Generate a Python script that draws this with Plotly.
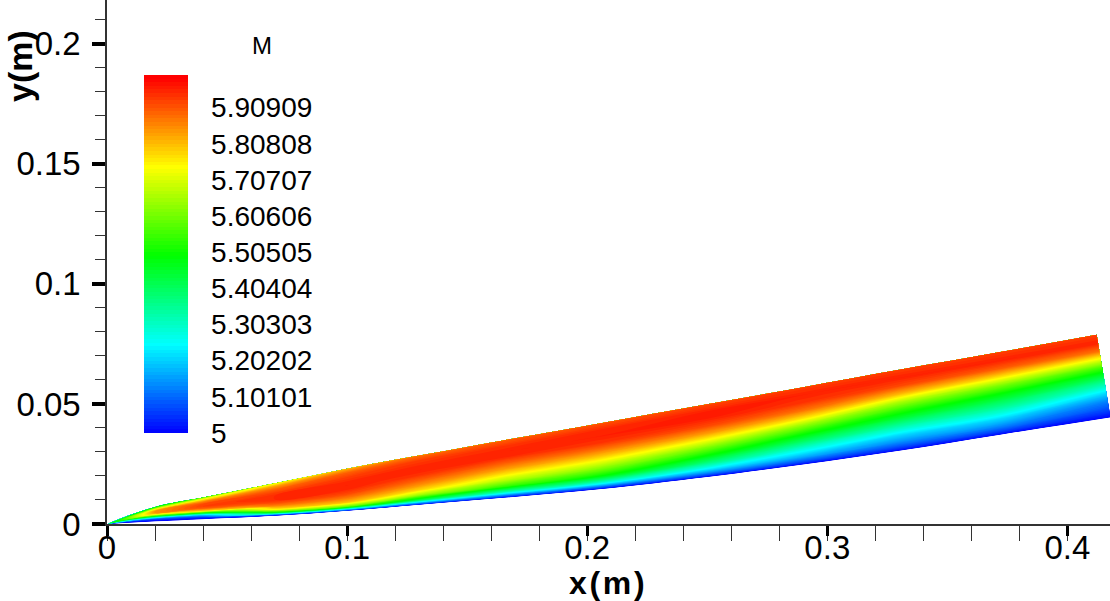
import plotly.graph_objects as go

# Wedge flow field: Mach number between the compression wall and the shock.
# Each station j is a line from the wall point (x_wall, y_wall) to the
# shock point (x_edge, y_edge); eta is the fraction of the way across.
x_wall = [0.0, 0.02, 0.04, 0.07, 0.10, 0.13, 0.165, 0.205, 0.25, 0.29, 0.33, 0.372, 0.418]
y_wall = [0.0, 0.0010, 0.0020, 0.0034, 0.0055, 0.0080, 0.0109, 0.0145, 0.0196, 0.0248, 0.0305, 0.0372, 0.0444]
x_edge = [0.0, 0.02, 0.04, 0.07, 0.10, 0.13, 0.165, 0.205, 0.25, 0.29, 0.33, 0.372, 0.4122]
y_edge = [0.0, 0.0071, 0.0110, 0.0170, 0.0230, 0.0285, 0.0348, 0.0419, 0.0499, 0.0570, 0.0642, 0.0716, 0.0788]

eta = [0.0, 0.04, 0.1, 0.2, 0.3, 0.4, 0.5, 0.6, 0.7, 0.8, 0.9, 1.0]

# Mach number, one row per station, one column per eta
mach = [
    [5.00, 5.00, 5.00, 5.02, 5.10, 5.20, 5.30, 5.40, 5.40, 5.35, 5.30, 5.20],
    [5.00, 5.00, 5.03, 5.10, 5.30, 5.55, 5.75, 5.85, 5.85, 5.78, 5.62, 5.45],
    [5.00, 5.02, 5.06, 5.20, 5.50, 5.80, 5.90, 5.93, 5.92, 5.87, 5.77, 5.60],
    [5.00, 5.10, 5.45, 5.75, 5.86, 5.92, 5.95, 5.95, 5.93, 5.90, 5.84, 5.72],
    [5.00, 5.20, 5.58, 5.80, 5.87, 5.92, 5.95, 5.96, 5.95, 5.93, 5.90, 5.82],
    [5.00, 5.15, 5.42, 5.65, 5.78, 5.85, 5.90, 5.94, 5.96, 5.95, 5.93, 5.88],
    [5.00, 5.12, 5.32, 5.55, 5.67, 5.76, 5.84, 5.90, 5.95, 5.96, 5.94, 5.90],
    [5.00, 5.12, 5.30, 5.50, 5.61, 5.71, 5.80, 5.88, 5.94, 5.96, 5.95, 5.91],
    [5.00, 5.10, 5.22, 5.38, 5.50, 5.61, 5.73, 5.84, 5.92, 5.96, 5.96, 5.92],
    [5.00, 5.08, 5.17, 5.28, 5.40, 5.51, 5.63, 5.77, 5.88, 5.94, 5.96, 5.93],
    [5.00, 5.06, 5.13, 5.22, 5.33, 5.44, 5.54, 5.66, 5.81, 5.92, 5.96, 5.93],
    [5.00, 5.06, 5.13, 5.22, 5.32, 5.41, 5.50, 5.62, 5.77, 5.90, 5.96, 5.93],
    [5.00, 5.03, 5.07, 5.13, 5.22, 5.33, 5.44, 5.56, 5.72, 5.88, 5.96, 5.93],
]

x_tick_vals = [0, 0.1, 0.2, 0.3, 0.4]
x_tick_text = ["0", "0.1", "0.2", "0.3", "0.4"]
y_tick_vals = [0, 0.05, 0.1, 0.15, 0.2]
y_tick_text = ["0", "0.05", "0.1", "0.15", "0.2"]
m_tick_vals = [5, 5.10101, 5.20202, 5.30303, 5.40404, 5.50505, 5.60606, 5.70707, 5.80808, 5.90909]
m_tick_text = ["5", "5.10101", "5.20202", "5.30303", "5.40404", "5.50505",
               "5.60606", "5.70707", "5.80808", "5.90909"]

# curvilinear grid built from the station end points
grid_x = [[xw + e * (xe - xw) for e in eta] for xw, xe in zip(x_wall, x_edge)]
grid_y = [[yw + e * (ye - yw) for e in eta] for yw, ye in zip(y_wall, y_edge)]
station = list(range(len(x_wall)))

rainbow = [
    [0.0, "rgb(0,0,255)"],
    [0.25, "rgb(0,255,255)"],
    [0.5, "rgb(0,255,0)"],
    [0.75, "rgb(255,255,0)"],
    [1.0, "rgb(255,0,0)"],
]

W, H = 1110, 601
ML, MB = 107, 77
PW, PH = W - ML, H - MB


def hidden_axis(smooth):
    return dict(
        showgrid=False, showline=False, showticklabels="none",
        startline=False, endline=False, minorgridcount=0,
        gridcolor="rgba(0,0,0,0)", smoothing=smooth,
    )


fig = go.Figure()
fig.add_trace(go.Carpet(
    a=eta, b=station, x=grid_x, y=grid_y,
    carpet="field", aaxis=hidden_axis(1), baxis=hidden_axis(1),
    xaxis="x", yaxis="y",
))
fig.add_trace(go.Contourcarpet(
    carpet="field", a=eta, b=station, z=mach,
    autocontour=False,
    contours=dict(start=5.0, end=6.0, size=1 / 99, coloring="fill", showlines=False),
    line=dict(width=0),
    colorscale=rainbow, zmin=5.0, zmax=6.0,
    colorbar=dict(
        x=(144 - ML) / PW, xanchor="left", xpad=0,
        y=(PH - 254) / PH, yanchor="middle", ypad=0,
        len=358, lenmode="pixels", thickness=44, thicknessmode="pixels",
        outlinewidth=0,
        tickmode="array", tickvals=m_tick_vals, ticktext=m_tick_text,
        ticks="outside", ticklen=18, tickcolor="rgba(0,0,0,0)",
        tickfont=dict(family="Liberation Sans, Arial, sans-serif", size=28, color="black"),
    ),
))

label_font = dict(family="Liberation Sans, Arial, sans-serif", size=33, color="black")
title_font = dict(family="Liberation Sans, Arial, sans-serif", size=34, color="black")
hair = "\u200a"

fig.update_layout(
    width=W, height=H,
    margin=dict(l=ML, r=0, t=0, b=MB, pad=0, autoexpand=False),
    paper_bgcolor="white", plot_bgcolor="white",
    showlegend=False,
    xaxis=dict(
        range=[0, (W - ML) / 2401], showgrid=False, zeroline=False,
        showline=True, linecolor="#333", linewidth=1.5,
        tickmode="array", tickvals=x_tick_vals, ticktext=x_tick_text,
        ticks="outside", ticklen=10, tickwidth=3, tickcolor="black",
        tickfont=label_font, ticklabelstandoff=-16,
        minor=dict(dtick=0.02, tick0=0, ticks="outside", ticklen=15,
                   tickwidth=1, tickcolor="#333"),
    ),
    yaxis=dict(
        range=[0, PH / 2401], showgrid=False, zeroline=False,
        showline=True, linecolor="#333", linewidth=1.5,
        tickmode="array", tickvals=y_tick_vals, ticktext=y_tick_text,
        ticks="outside", ticklen=13, tickwidth=4, tickcolor="black",
        tickfont=label_font, ticklabelstandoff=5,
        minor=dict(dtick=0.01, tick0=0, ticks="outside", ticklen=10,
                   tickwidth=1, tickcolor="#333"),
    ),
    annotations=[
        dict(text="M", xref="paper", yref="paper",
             x=(262 - ML) / PW, y=(PH - 45) / PH, xanchor="center", yanchor="middle",
             showarrow=False, font=dict(family="Liberation Sans, Arial, sans-serif",
                                         size=24, color="black")),
        dict(text="<b>y(m)</b>", xref="paper", yref="paper",
             x=(20 - ML) / PW, y=(PH - 66) / PH, xanchor="center", yanchor="middle",
             textangle=-90, showarrow=False, font=dict(title_font, size=34)),
        dict(text="<b>x" + hair + "(" + hair + "m" + hair + ")</b>", xref="paper", yref="paper",
             x=(607 - ML) / PW, y=(PH - 583) / PH, xanchor="center", yanchor="middle",
             showarrow=False, font=dict(title_font, size=32)),
    ],
)

fig.write_html("out.html", config={"displayModeBar": False})
